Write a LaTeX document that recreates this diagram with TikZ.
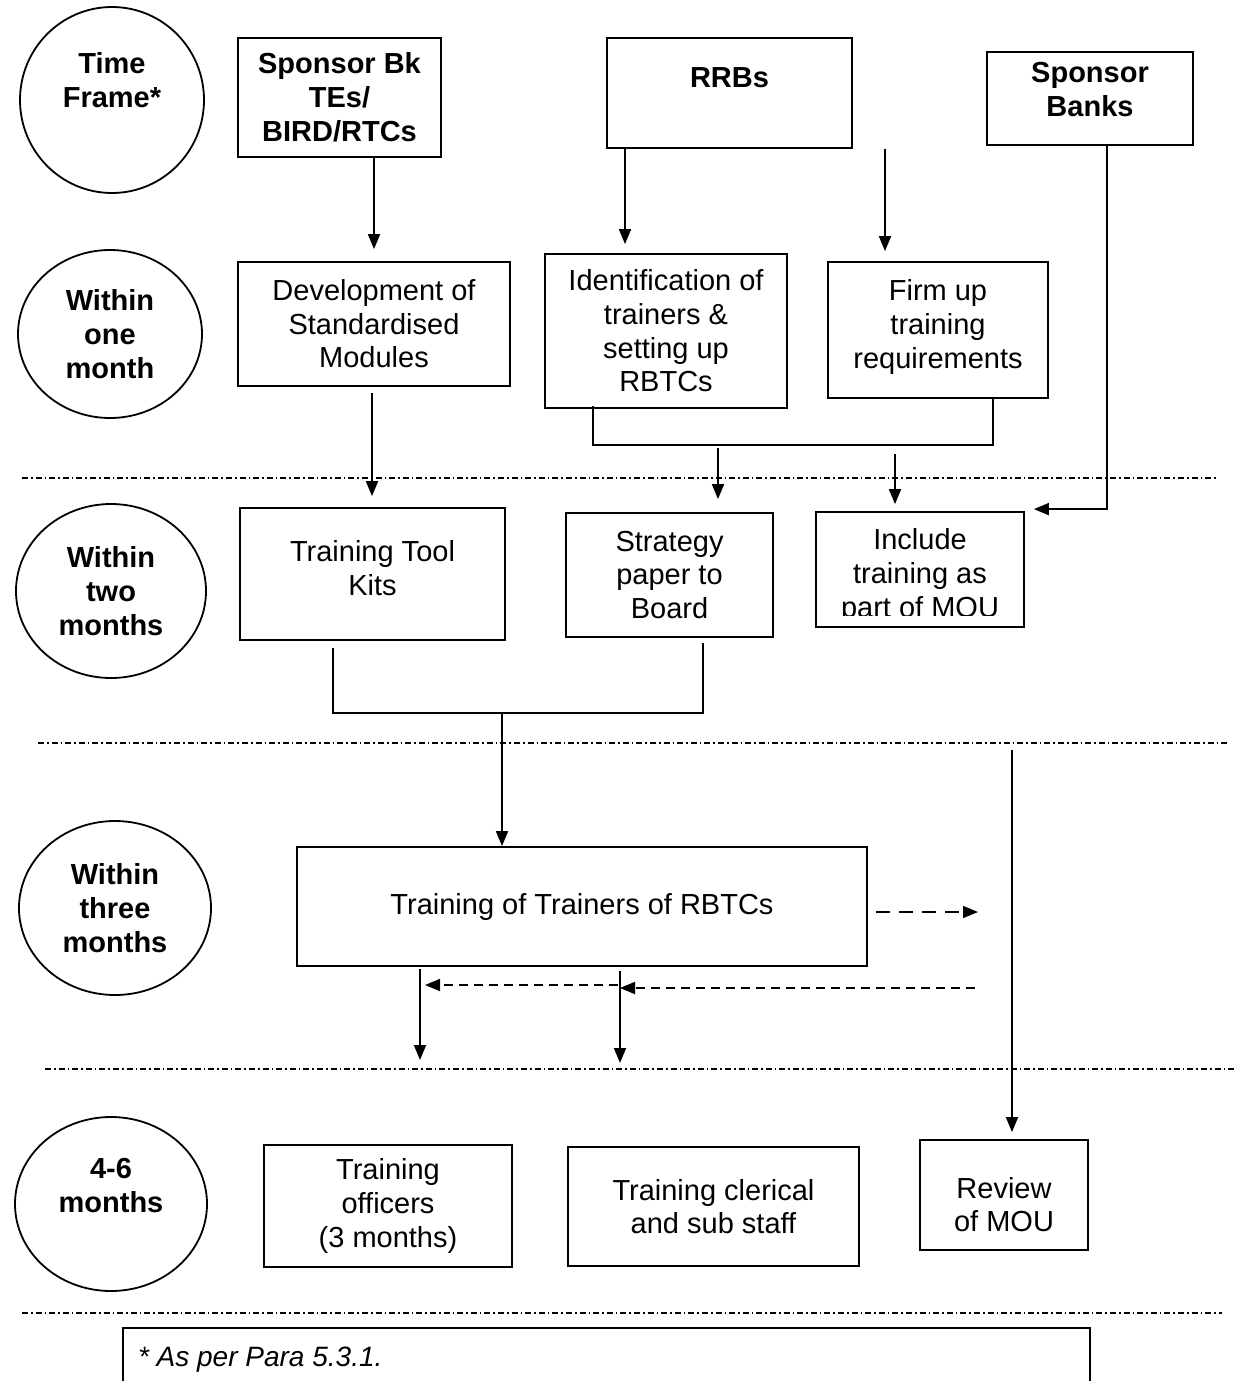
\documentclass[tikz,border=0pt]{standalone}
\usepackage{fontspec}
\setmainfont{Liberation Sans}
\usetikzlibrary{arrows.meta,calc,shapes.geometric}

\begin{document}
\begin{tikzpicture}[x=0.5pt, y=-0.5pt,
  every node/.style={font=\fontsize{14.5pt}{16.8pt}\selectfont},
  box/.style={draw, line width=0.9pt, inner sep=0pt, align=center},
  head/.style={box, font=\bfseries\fontsize{14.5pt}{17pt}\selectfont},
  phase/.style={draw, ellipse, line width=0.9pt, inner sep=0pt, align=center,
    font=\bfseries\fontsize{14.5pt}{17pt}\selectfont},
  link/.style={line width=0.9pt, -{Triangle[length=7.5pt,width=6pt]}},
  hint/.style={link, dash pattern=on 4.5pt off 3pt},
  sep/.style={line width=0.8pt, dash pattern=on 3pt off 1.5pt on 0.8pt off 1.5pt}]
\useasboundingbox (0,0) rectangle (1236,1381);

% time frames
\node[phase, minimum width=92pt, minimum height=93pt] (tf) at (112,100) {Time\\Frame*\rule[-20pt]{0pt}{0pt}};
\node[phase, minimum width=92pt, minimum height=84pt] (m1) at (110,334) {Within\\one\\month};
\node[phase, minimum width=95pt, minimum height=87pt] (m2) at (111,591) {Within\\two\\months};
\node[phase, minimum width=96pt, minimum height=87pt] (m3) at (115,908) {Within\\three\\months};
\node[phase, minimum width=96pt, minimum height=87pt] (m46) at (111,1204) {4-6\\months\rule[-19pt]{0pt}{0pt}};

% phase separators
\draw[sep] (22,478) -- (1218,478);
\draw[sep] (38,743) -- (1230,743);
\draw[sep] (45,1069) -- (1236,1069);
\draw[sep] (22,1313) -- (1222,1313);

% actors
\node[head, minimum width=101.5pt, minimum height=59.5pt] (sbk) at (339.5,97.5) {Sponsor Bk\\TEs/\\BIRD/RTCs};
\node[head, minimum width=122.5pt, minimum height=55pt] (rrb) at (729.5,93) {RRBs\rule[-15pt]{0pt}{0pt}};
\node[head, minimum width=103pt, minimum height=46.5pt] (sbanks) at (1090,98.5) {Sponsor\\Banks\rule[-9.5pt]{0pt}{0pt}};

% within one month
\node[box, minimum width=136pt, minimum height=62pt] (dev) at (374,324) {Development of\\Standardised\\Modules};
\node[box, minimum width=121pt, minimum height=77pt] (ident) at (666,331) {Identification of\\trainers \&\\setting up\\RBTCs};
\node[box, minimum width=110pt, minimum height=68pt] (firm) at (938,330) {Firm up\\training\\requirements\rule[-6pt]{0pt}{0pt}};

% within two months
\node[box, minimum width=132.5pt, minimum height=66pt] (kits) at (372.5,574) {Training Tool\\Kits\rule[-6pt]{0pt}{0pt}};
\node[box, minimum width=103.5pt, minimum height=62pt] (paper) at (669.5,575) {Strategy\\paper to\\Board};
\node[box, minimum width=104pt, minimum height=57.5pt] (mou) at (920,569.5) {};
\begin{scope}
  \clip (816,512) rectangle (1024,615);
  \node[align=center] (moutext) at (920,576) {Include\\training as\\part of MOU};
\end{scope}

% within three months
\node[box, minimum width=285pt, minimum height=59.5pt] (tot) at (582,906.5) {Training of Trainers of RBTCs};

% 4-6 months
\node[box, minimum width=124pt, minimum height=61pt] (officers) at (388,1206) {Training\\officers\\(3 months)};
\node[box, minimum width=145.5pt, minimum height=59.5pt] (clerical) at (713.5,1206.5) {Training clerical\\and sub staff};
\node[box, minimum width=84pt, minimum height=55pt] (review) at (1004,1195) {\rule{0pt}{20pt}Review\\of MOU};

% footnote
\draw[line width=0.9pt] (123,1381) |- (1090,1328) -- (1090,1381);
\node[anchor=west, font=\itshape\fontsize{14pt}{16pt}\selectfont] (note) at (131,1360) {* As per Para 5.3.1.};

% flows
\draw[link] (sbk.south -| dev.north) -- ($(dev.north)+(0,-12)$);
\draw[link] ($(rrb.south)+(-104.5,0)$) -- ($(ident.north)+(-41,-9)$);
\draw[link] ($(rrb.south)+(155.5,0)$) -- ($(firm.north)+(-53,-10)$);
\draw[link] ($(sbanks.south)+(17,0)$) |- ($(mou.north east)+(9,-2)$);
\draw[link] ($(dev.south)+(-2,6)$) -- ($(dev.south |- kits.north)+(-2,-11)$);
\draw[line width=0.9pt] ($(ident.south)+(-73,-3)$) |- ($(firm.south)+(55,46)$) -- ($(firm.south)+(55,0)$);
\draw[link] ($(paper.north)+(48.5,-64)$) -- ($(paper.north)+(48.5,-13)$);
\draw[link] ($(mou.north)+(-25,-57)$) -- ($(mou.north)+(-25,-7)$);
\draw[line width=0.9pt] ($(kits.south)+(-39.5,7)$) |- ($(paper.south)+(33.5,75)$) -- ($(paper.south)+(33.5,5)$);
\coordinate (j2) at (502,712);
\draw[link] (j2) -- (j2 |- tot.north);
\coordinate (r0) at (1012,750);
\draw[link] (r0) -- ($(r0 |- review.north)+(0,-7)$);
\coordinate (t1) at (978,912);
\draw[hint, dash pattern=on 7pt off 4.5pt] ($(tot.east |- t1)+(8,0)$) -- (t1);
\coordinate (d1) at (420,1060);
\coordinate (d2) at (620,1063);
\draw[link] ($(d1 |- tot.south)+(0,2)$) -- (d1);
\draw[link] ($(d2 |- tot.south)+(0,4)$) -- (d2);
\coordinate (f0) at (975,988);
\coordinate (f1) at (618,985);
\coordinate (f2) at (425,985);
\draw[hint] (f0) -- (f0 -| d2);
\draw[hint] (f1) -- (f2);
\end{tikzpicture}
\end{document}
